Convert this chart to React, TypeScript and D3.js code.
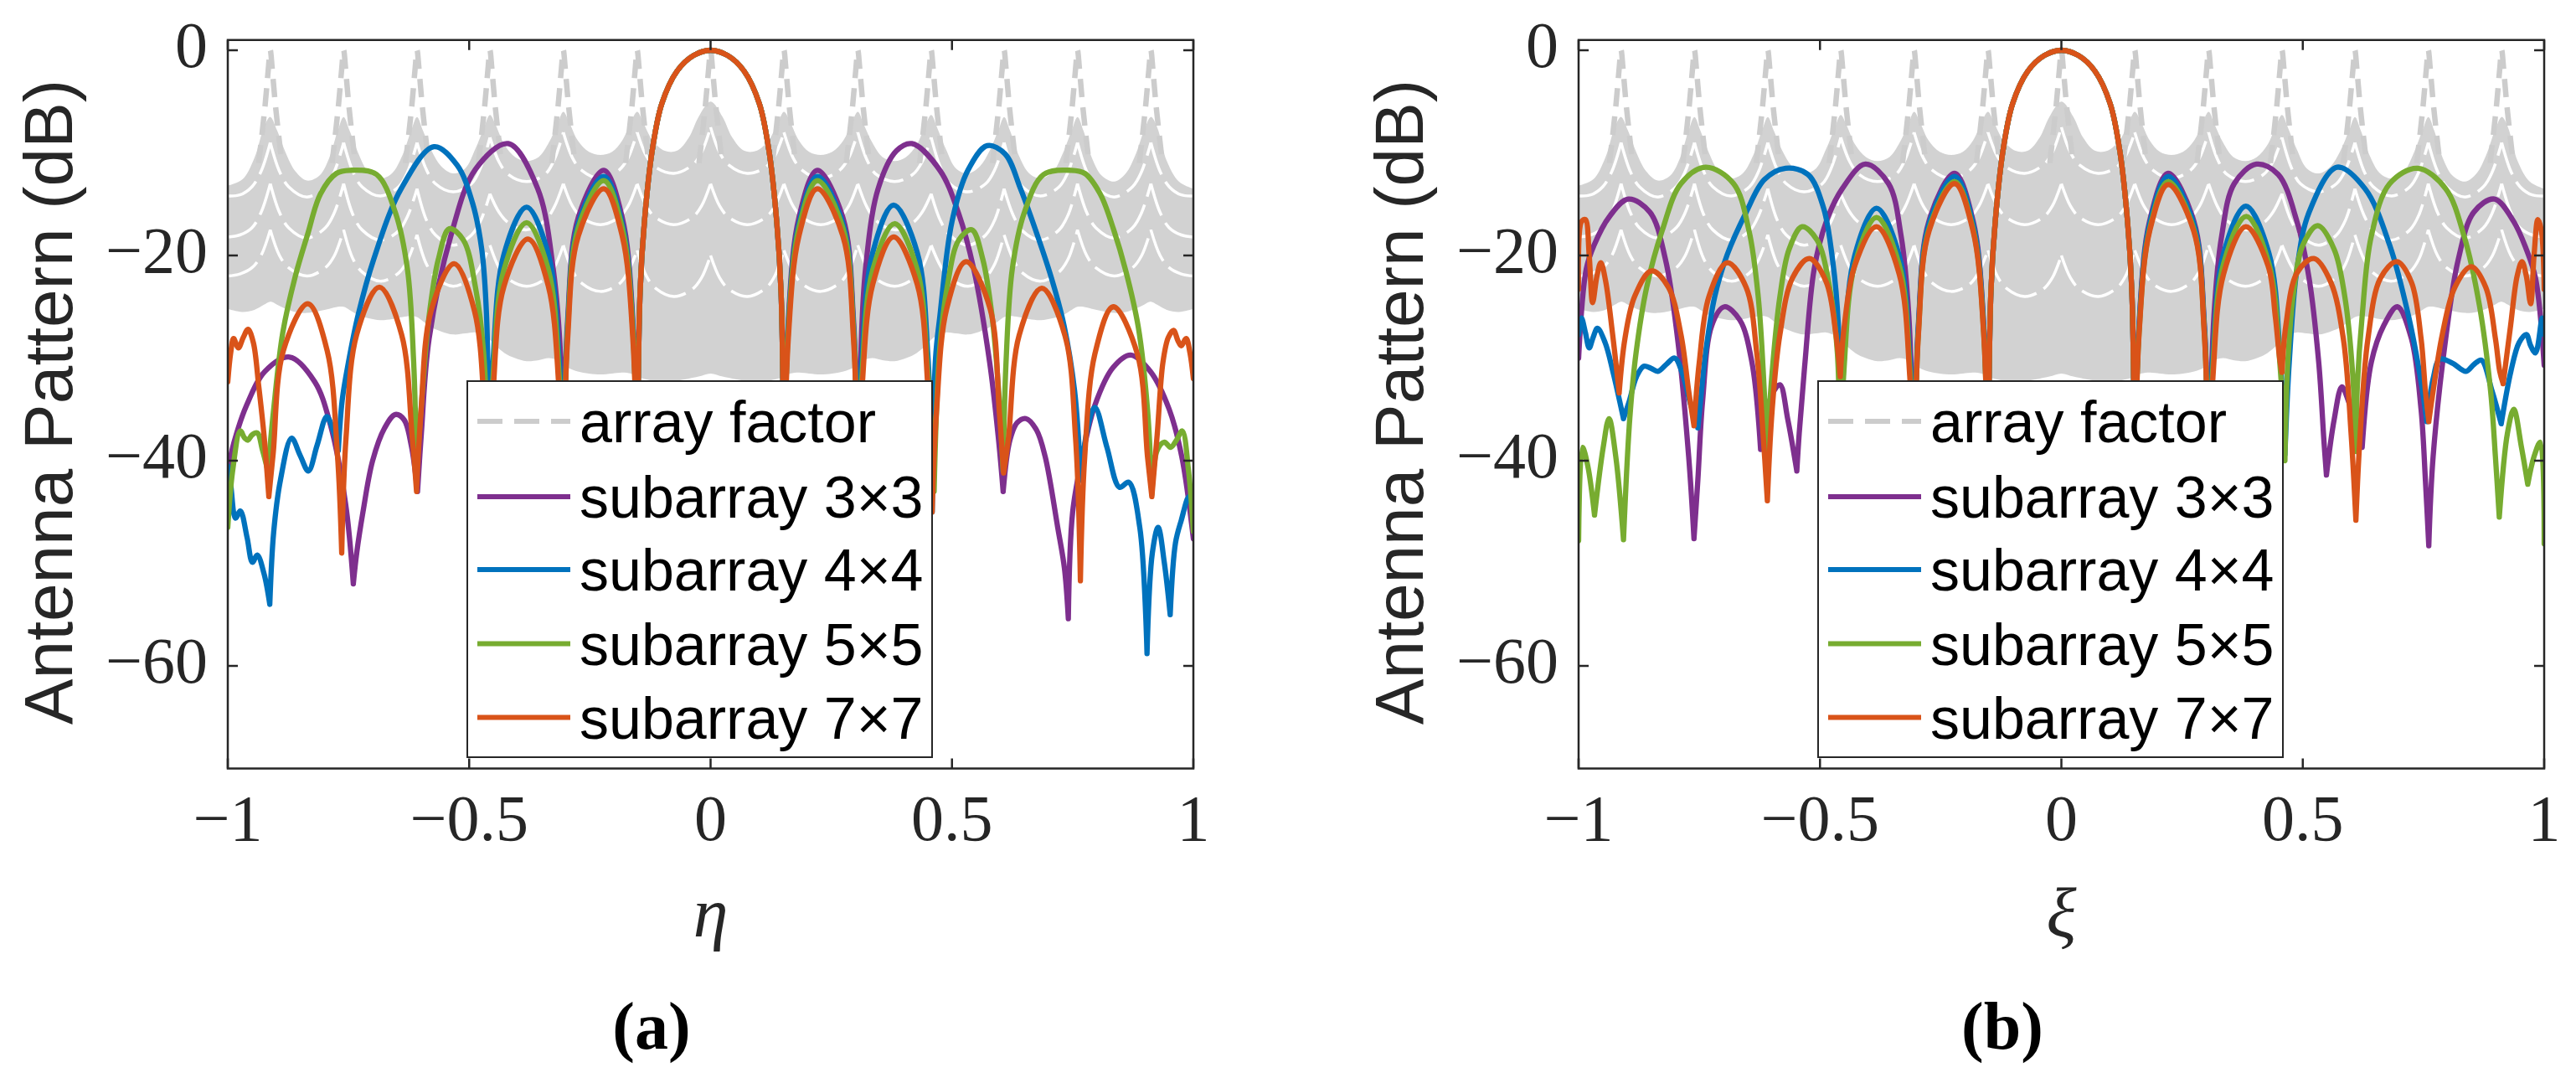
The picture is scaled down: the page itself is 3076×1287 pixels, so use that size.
import * as d3 from "d3";

// [x, dB, cusp?]  cusp=1 marks a null where the curve has a sharp corner
type Pt = [number, number, number?];

const W = 3076;
const H = 1287;
const plotWidth = 1153;
const plotTop = 47.75;
const plotBottom = 917.5;

const xTicks = [-1, -0.5, 0, 0.5, 1];
const xTickLabels = ["−1", "−0.5", "0", "0.5", "1"];
const yTicks = [0, -20, -40, -60];
const yTickLabels = ["0", "−20", "−40", "−60"];

const seriesNames = ["array factor", "subarray 3×3", "subarray 4×4", "subarray 5×5", "subarray 7×7"];
const seriesColors = ["#cccccc", "#7E2F8E", "#0072BD", "#77AC30", "#D95319"];

// array factor: grating-lobe spikes and the dense band between them
const afSpikes = [-0.912, -0.76, -0.608, -0.457, -0.305, -0.152, 0, 0.152, 0.305, 0.457, 0.608, 0.76, 0.912];
const spikeDx = [-0.024, -0.011, -0.004, 0, 0.004, 0.011, 0.024];
const spikeDb = [-11, -5.5, -1.8, 0, -1.8, -5.5, -11];

const afX = [
  -1, -0.97, -0.945, -0.925, -0.912, -0.898, -0.88, -0.86, -0.836, -0.81, -0.79, -0.772, -0.76, -0.748, -0.73, -0.71,
  -0.684, -0.66, -0.638, -0.62, -0.608, -0.596, -0.578, -0.558, -0.533, -0.508, -0.487, -0.469, -0.457, -0.445, -0.427,
  -0.405, -0.381, -0.356, -0.335, -0.317, -0.305, -0.293, -0.275, -0.252, -0.228, -0.204, -0.183, -0.165, -0.152, -0.14,
  -0.12, -0.095, -0.07, -0.045, -0.025, 0,
  0.025, 0.045, 0.07, 0.095, 0.12, 0.14, 0.152, 0.165, 0.183, 0.204, 0.228, 0.252, 0.275, 0.293, 0.305, 0.317, 0.335,
  0.356, 0.381, 0.405, 0.427, 0.445, 0.457, 0.469, 0.487, 0.508, 0.533, 0.558, 0.578, 0.596, 0.608, 0.62, 0.638, 0.66,
  0.684, 0.71, 0.73, 0.748, 0.76, 0.772, 0.79, 0.81, 0.836, 0.86, 0.88, 0.898, 0.912, 0.925, 0.945, 0.97, 1,
];
const afTop = [
  -13.2, -12.6, -10.5, -7.5, -6.5, -7.8, -10, -11.8, -12.7, -12.2, -10.5, -7.8, -6.5, -7.8, -10, -11.8,
  -12.5, -12, -10.2, -7.8, -6.5, -7.8, -9.8, -11.3, -12, -11.5, -9.6, -7.5, -6.3, -7.3, -9.2,
  -10.4, -10.8, -10.4, -9, -7.2, -6, -7, -8.8, -9.9, -10.2, -9.9, -8.8, -7, -6, -7,
  -8.8, -9.8, -9.8, -8.5, -6.5, -5,
  -6.5, -8.5, -9.8, -9.8, -8.8, -7, -6, -7, -8.8, -9.9, -10.2, -9.9, -8.8, -7, -6, -7.2, -9,
  -10.4, -10.8, -10.4, -9.2, -7.3, -6.3, -7.5, -9.6, -11.5, -12, -11.3, -9.8, -7.8, -6.5, -7.8, -10.2, -12,
  -12.5, -11.8, -10, -7.8, -6.5, -7.8, -10.5, -12.2, -12.8, -12, -10.2, -7.8, -6.5, -7.5, -10.8, -12.8, -13.5,
];
const afBottom = [
  -25.2, -25.5, -25.3, -24.8, -24.5, -24.8, -25.2, -25.5, -25.6, -25.4, -25.2, -25, -25, -25.3, -25.8, -26.1,
  -26.3, -26.2, -26, -25.9, -26, -26.4, -27, -27.4, -27.7, -27.6, -27.5, -27.8, -28.2, -28.8, -29.5,
  -30, -30.3, -30.2, -30, -30.2, -30.6, -31, -31.3, -31.5, -31.6, -31.5, -31.4, -31.5, -31.8, -32,
  -32.2, -32.3, -32.2, -32, -31.8, -31.5,
  -31.8, -32, -32.2, -32.3, -32.2, -32, -31.8, -31.5, -31.4, -31.5, -31.6, -31.5, -31.3, -31, -30.6, -30.2, -30,
  -30.2, -30.3, -30, -29.5, -28.8, -28.2, -27.8, -27.5, -27.6, -27.7, -27.4, -27, -26.4, -26, -25.9, -26, -26.2,
  -26.3, -26.1, -25.8, -25.3, -25, -25, -25.2, -25.4, -25.6, -25.5, -25.2, -24.8, -24.5, -24.8, -25.3, -25.5, -25.2,
];

// white gaps between the scalloped dashed arcs inside the band
const afGap1: Pt[] = [
  [-1, -14.2], [-0.975, -14.1], [-0.95, -13.3], [-0.931, -11.8], [-0.912, -9, 1],
  [-0.893, -11.8], [-0.874, -13.3], [-0.836, -14.3], [-0.798, -13.3], [-0.779, -11.8], [-0.76, -9, 1],
  [-0.741, -11.8], [-0.722, -13.3], [-0.684, -14.2], [-0.646, -13.3], [-0.627, -11.8], [-0.608, -9, 1],
  [-0.589, -11.6], [-0.57, -13], [-0.533, -13.8], [-0.495, -13], [-0.476, -11.4], [-0.457, -8.5, 1],
  [-0.438, -10.9], [-0.419, -12.1], [-0.381, -12.8], [-0.343, -12.1], [-0.324, -10.7], [-0.305, -8, 1],
  [-0.286, -10.5], [-0.267, -11.7], [-0.228, -12.5], [-0.19, -11.7], [-0.171, -10.5], [-0.152, -8, 1],
  [-0.133, -10.3], [-0.114, -11.4], [-0.076, -12], [-0.038, -11.2], [-0.019, -10], [0, -7.5, 1],
  [0.019, -10], [0.038, -11.2], [0.076, -12], [0.114, -11.4], [0.133, -10.3], [0.152, -8, 1],
  [0.171, -10.5], [0.19, -11.7], [0.228, -12.5], [0.267, -11.7], [0.286, -10.5], [0.305, -8, 1],
  [0.324, -10.7], [0.343, -12.1], [0.381, -12.8], [0.419, -12.1], [0.438, -10.9], [0.457, -8.5, 1],
  [0.476, -11.4], [0.495, -13], [0.533, -13.8], [0.57, -13], [0.589, -11.6], [0.608, -9, 1],
  [0.627, -11.8], [0.646, -13.3], [0.684, -14.2], [0.722, -13.3], [0.741, -11.8], [0.76, -9, 1],
  [0.779, -11.8], [0.798, -13.3], [0.836, -14.3], [0.874, -13.3], [0.893, -11.8], [0.912, -9, 1],
  [0.931, -11.8], [0.95, -13.3], [0.975, -14.1], [1, -14.2],
];
const afGap2: Pt[] = [
  [-1, -18.2], [-0.975, -18], [-0.95, -17.3], [-0.931, -15.8], [-0.912, -13, 1],
  [-0.893, -15.8], [-0.874, -17.3], [-0.836, -18.3], [-0.798, -17.3], [-0.779, -15.8], [-0.76, -13, 1],
  [-0.741, -16], [-0.722, -17.5], [-0.684, -18.5], [-0.646, -17.6], [-0.627, -16.1], [-0.608, -13.5, 1],
  [-0.589, -16.5], [-0.57, -18], [-0.533, -19], [-0.495, -18], [-0.476, -16.6], [-0.457, -14, 1],
  [-0.438, -15.8], [-0.419, -16.8], [-0.381, -17.5], [-0.343, -16.6], [-0.324, -15.3], [-0.305, -13, 1],
  [-0.286, -15.2], [-0.267, -16.3], [-0.228, -17], [-0.19, -16.3], [-0.171, -15.2], [-0.152, -13, 1],
  [-0.133, -15.2], [-0.114, -16.3], [-0.076, -17], [-0.038, -16.3], [-0.019, -15.2], [0, -13, 1],
  [0.019, -15.2], [0.038, -16.3], [0.076, -17], [0.114, -16.3], [0.133, -15.2], [0.152, -13, 1],
  [0.171, -15.2], [0.19, -16.3], [0.228, -17], [0.267, -16.3], [0.286, -15.2], [0.305, -13, 1],
  [0.324, -15.3], [0.343, -16.6], [0.381, -17.5], [0.419, -16.8], [0.438, -15.8], [0.457, -14, 1],
  [0.476, -16.6], [0.495, -18], [0.533, -19], [0.57, -18], [0.589, -16.5], [0.608, -13.5, 1],
  [0.627, -16.1], [0.646, -17.6], [0.684, -18.5], [0.722, -17.5], [0.741, -16], [0.76, -13, 1],
  [0.779, -15.8], [0.798, -17.3], [0.836, -18.3], [0.874, -17.3], [0.893, -15.8], [0.912, -13, 1],
  [0.931, -15.8], [0.95, -17.3], [0.975, -18], [1, -18.2],
];
const afGap3: Pt[] = [
  [-1, -22], [-0.975, -21.8], [-0.95, -21.2], [-0.931, -20], [-0.912, -17.5, 1],
  [-0.893, -20], [-0.874, -21.2], [-0.836, -22], [-0.798, -21.2], [-0.779, -20], [-0.76, -17.5, 1],
  [-0.741, -20.3], [-0.722, -21.6], [-0.684, -22.5], [-0.646, -21.7], [-0.627, -20.4], [-0.608, -18, 1],
  [-0.589, -20.8], [-0.57, -22.1], [-0.533, -23], [-0.495, -22.2], [-0.476, -21], [-0.457, -19, 1],
  [-0.438, -21.2], [-0.419, -22.3], [-0.381, -23], [-0.343, -22.3], [-0.324, -21.2], [-0.305, -19, 1],
  [-0.286, -21.5], [-0.267, -22.7], [-0.228, -23.5], [-0.19, -22.8], [-0.171, -21.6], [-0.152, -19.5, 1],
  [-0.133, -22], [-0.114, -23.2], [-0.076, -24], [-0.038, -23.3], [-0.019, -22.2], [0, -20, 1],
  [0.019, -22.2], [0.038, -23.3], [0.076, -24], [0.114, -23.2], [0.133, -22], [0.152, -19.5, 1],
  [0.171, -21.6], [0.19, -22.8], [0.228, -23.5], [0.267, -22.7], [0.286, -21.5], [0.305, -19, 1],
  [0.324, -21.2], [0.343, -22.3], [0.381, -23], [0.419, -22.3], [0.438, -21.2], [0.457, -19, 1],
  [0.476, -21], [0.495, -22.2], [0.533, -23], [0.57, -22.1], [0.589, -20.8], [0.608, -18, 1],
  [0.627, -20.4], [0.646, -21.7], [0.684, -22.5], [0.722, -21.6], [0.741, -20.3], [0.76, -17.5, 1],
  [0.779, -20], [0.798, -21.2], [0.836, -22], [0.874, -21.2], [0.893, -20], [0.912, -17.5, 1],
  [0.931, -20], [0.95, -21.2], [0.975, -21.8], [1, -22],
];

// main lobe, identical for every subarray size
const mainLobe: Pt[] = [
  [-0.152, -45, 1], [-0.146, -23.6], [-0.137, -16.7], [-0.121, -9.8], [-0.101, -5.2], [-0.069, -2.0], [-0.035, -0.5],
  [0, 0], [0.035, -0.5], [0.069, -2.0], [0.101, -5.2], [0.121, -9.8], [0.137, -16.7], [0.146, -23.6], [0.152, -45, 1],
];

// ---- panel (a), eta cut ----
const purpleA: Pt[] = [
  [-1, -41], [-0.987, -38.2], [-0.961, -34.6], [-0.923, -31.3], [-0.872, -29.9], [-0.82, -32.3], [-0.788, -36.4], [-0.756, -44.2], [-0.74, -52, 1],
  [-0.733, -49], [-0.72, -45], [-0.7, -40], [-0.675, -36.8], [-0.653, -35.5], [-0.635, -36], [-0.62, -38.5], [-0.607, -43, 1],
  [-0.599, -37.3], [-0.583, -28.1], [-0.538, -18.1], [-0.487, -11.6], [-0.419, -9.1], [-0.358, -13.5], [-0.326, -21.3], [-0.31, -30.4], [-0.305, -45, 1],
  [-0.296, -26.3], [-0.274, -16.3], [-0.221, -11.7], [-0.183, -16.3], [-0.161, -26.3],
  ...mainLobe,
  [0.161, -26.3], [0.183, -16.3], [0.221, -11.7], [0.274, -16.3], [0.296, -26.3], [0.305, -45, 1],
  [0.311, -30], [0.321, -21.3], [0.347, -13.5], [0.385, -9.8], [0.417, -9.1], [0.475, -11.7], [0.513, -15.8], [0.545, -21.3], [0.578, -30.4], [0.597, -38.2], [0.606, -43, 1],
  [0.62, -38], [0.635, -36.3], [0.653, -35.9], [0.675, -37], [0.693, -39.6], [0.719, -46.5], [0.733, -50.5], [0.741, -55.4, 1],
  [0.75, -45], [0.77, -39.6], [0.796, -34.6], [0.834, -30.9], [0.87, -29.7], [0.911, -31.3], [0.95, -35], [0.976, -39.6], [1, -47.6],
];
const blueA: Pt[] = [
  [-1, -40.5], [-0.994, -42.3], [-0.984, -45.6], [-0.974, -44.9], [-0.96, -47.5], [-0.949, -49.9], [-0.939, -49.2], [-0.925, -51], [-0.913, -54, 1],
  [-0.905, -47], [-0.891, -41.9], [-0.868, -37.8], [-0.85, -39.5], [-0.833, -41], [-0.815, -38.5], [-0.795, -35.7], [-0.782, -37], [-0.771, -39, 1],
  [-0.763, -34.1], [-0.75, -30.4], [-0.73, -25.8], [-0.698, -20.4], [-0.641, -13.5], [-0.573, -9.4], [-0.525, -11.2], [-0.493, -14.9], [-0.474, -19.4], [-0.464, -25.9], [-0.459, -45, 1],
  [-0.45, -29.9], [-0.428, -19.9], [-0.381, -15.3], [-0.336, -19.9], [-0.314, -29.9], [-0.305, -45, 1],
  [-0.296, -26.9], [-0.274, -16.9], [-0.221, -12.3], [-0.183, -16.9], [-0.161, -26.9],
  ...mainLobe,
  [0.161, -26.9], [0.183, -16.9], [0.221, -12.3], [0.274, -16.9], [0.296, -26.9], [0.305, -45, 1],
  [0.314, -29.7], [0.336, -19.7], [0.379, -15.1], [0.428, -19.7], [0.45, -29.7], [0.459, -45, 1],
  [0.466, -30], [0.475, -25.9], [0.5, -16.7], [0.533, -11.7], [0.573, -9.3], [0.61, -10.1], [0.642, -13.5], [0.667, -16.7], [0.706, -22.2], [0.732, -26.8], [0.754, -33.2], [0.767, -41.9, 1],
  [0.78, -37], [0.796, -34.8], [0.821, -38.7], [0.847, -42.6], [0.866, -42.1], [0.889, -46.5], [0.904, -58.8, 1],
  [0.915, -49], [0.927, -46.5], [0.94, -50], [0.952, -55, 1], [0.963, -48], [0.975, -45.8], [0.991, -43.5], [1, -44.6],
];
const greenA: Pt[] = [
  [-1, -46.5], [-0.99, -41], [-0.974, -37.1], [-0.965, -37.8], [-0.958, -38], [-0.95, -37.5], [-0.939, -37.3], [-0.928, -39], [-0.917, -41, 1],
  [-0.905, -35], [-0.886, -27.5], [-0.86, -22], [-0.835, -18], [-0.808, -14], [-0.775, -12], [-0.747, -11.7], [-0.692, -12.1], [-0.653, -15.8], [-0.628, -21.3], [-0.615, -30.4], [-0.609, -41, 1],
  [-0.596, -32.7], [-0.583, -25.9], [-0.564, -20.4], [-0.541, -17.4], [-0.512, -18.5], [-0.487, -23.1], [-0.47, -29.5], [-0.459, -45, 1],
  [-0.45, -31.4], [-0.428, -21.4], [-0.381, -16.8], [-0.336, -21.4], [-0.314, -31.4], [-0.305, -45, 1],
  [-0.296, -27.3], [-0.274, -17.3], [-0.221, -12.7], [-0.183, -17.3], [-0.161, -27.3],
  ...mainLobe,
  [0.161, -27.3], [0.183, -17.3], [0.221, -12.7], [0.274, -17.3], [0.296, -27.3], [0.305, -45, 1],
  [0.314, -31.4], [0.336, -21.4], [0.381, -16.9], [0.428, -21.4], [0.45, -31.4], [0.463, -43, 1],
  [0.474, -29.5], [0.49, -23.1], [0.514, -18.5], [0.541, -17.5], [0.564, -20.4], [0.583, -25.9], [0.596, -32.7], [0.606, -41, 1],
  [0.612, -30.4], [0.625, -21.3], [0.65, -15.8], [0.69, -12.1], [0.747, -11.7], [0.775, -12], [0.807, -14], [0.835, -17.5], [0.86, -21.5], [0.886, -27], [0.905, -35], [0.914, -43.3, 1],
  [0.925, -39], [0.94, -38.2], [0.953, -38.7], [0.965, -38], [0.977, -37.1], [0.99, -41], [1, -46.9],
];
const orangeA: Pt[] = [
  [-1, -32.3], [-0.994, -29.5], [-0.988, -28.1], [-0.978, -29], [-0.968, -28], [-0.958, -27.2], [-0.947, -28.5], [-0.936, -32.7], [-0.925, -37.5], [-0.915, -43.5, 1],
  [-0.906, -39.3], [-0.885, -29.3], [-0.834, -24.7], [-0.794, -29.3], [-0.773, -39.3], [-0.764, -49, 1],
  [-0.755, -37.7], [-0.733, -27.7], [-0.686, -23.1], [-0.64, -27.7], [-0.618, -37.7], [-0.609, -43, 1],
  [-0.6, -35.4], [-0.579, -25.4], [-0.531, -20.8], [-0.489, -25.4], [-0.468, -35.4], [-0.459, -45, 1],
  [-0.45, -33], [-0.428, -23], [-0.378, -18.4], [-0.336, -23], [-0.314, -33], [-0.305, -45, 1],
  [-0.296, -28.1], [-0.274, -18.1], [-0.221, -13.5], [-0.183, -18.1], [-0.161, -28.1],
  ...mainLobe,
  [0.161, -28.1], [0.183, -18.1], [0.221, -13.5], [0.274, -18.1], [0.296, -28.1], [0.305, -45, 1],
  [0.314, -32.8], [0.336, -22.8], [0.379, -18.2], [0.428, -22.8], [0.45, -32.8], [0.459, -45, 1],
  [0.468, -35.2], [0.489, -25.2], [0.529, -20.6], [0.579, -25.2], [0.598, -35.2], [0.607, -41.2, 1],
  [0.617, -37.8], [0.639, -27.8], [0.686, -23.2], [0.734, -27.8], [0.756, -37.8], [0.766, -51.7, 1],
  [0.775, -39.6], [0.796, -29.6], [0.834, -25], [0.884, -29.6], [0.905, -39.6], [0.914, -43.5, 1],
  [0.925, -37.5], [0.937, -30.4], [0.948, -28], [0.959, -27.3], [0.968, -28.3], [0.975, -28.8], [0.985, -28.1], [0.993, -29.5], [1, -32],
];

// ---- panel (b), xi cut ----
const purpleB: Pt[] = [
  [-1, -30], [-0.984, -21.3], [-0.968, -19], [-0.936, -16.2], [-0.897, -14.5], [-0.852, -15.8], [-0.82, -20.4], [-0.795, -28.1], [-0.772, -39.6], [-0.761, -47.6, 1],
  [-0.753, -41.9], [-0.743, -34.1], [-0.724, -26.8], [-0.698, -25], [-0.666, -26.3], [-0.641, -30.4], [-0.623, -38.9, 1],
  [-0.611, -35.5], [-0.599, -33.5], [-0.583, -32.6], [-0.567, -35.9], [-0.548, -41, 1],
  [-0.543, -37.3], [-0.531, -30.4], [-0.512, -21.3], [-0.487, -16.7], [-0.454, -13.5], [-0.406, -11.1], [-0.358, -13], [-0.332, -18.1], [-0.316, -25.9], [-0.305, -45, 1],
  [-0.296, -26.6], [-0.274, -16.6], [-0.221, -12], [-0.183, -16.6], [-0.161, -26.6],
  ...mainLobe,
  [0.161, -26.6], [0.183, -16.6], [0.221, -12], [0.274, -16.6], [0.296, -26.6], [0.305, -45, 1],
  [0.316, -25.9], [0.332, -18.1], [0.358, -13], [0.404, -11.1], [0.449, -12.1], [0.488, -16.7], [0.513, -22.2], [0.533, -30.4], [0.544, -38.2], [0.549, -41.4, 1],
  [0.565, -36], [0.581, -32.8], [0.597, -34.5], [0.611, -36], [0.623, -38.7, 1],
  [0.642, -30.4], [0.668, -26.8], [0.696, -25], [0.725, -28.1], [0.745, -35], [0.754, -41.9], [0.761, -48.3, 1],
  [0.77, -39.6], [0.796, -28.1], [0.822, -20.4], [0.854, -15.8], [0.897, -14.5], [0.937, -16.7], [0.963, -19.4], [0.982, -22.2], [1, -30.7],
];
const blueB: Pt[] = [
  [-1, -27.7], [-0.994, -26.1], [-0.986, -27.5], [-0.978, -29], [-0.97, -28], [-0.961, -27.1], [-0.945, -28.5], [-0.929, -31.3], [-0.907, -35.9, 1],
  [-0.895, -34.2], [-0.88, -31.8], [-0.865, -30.8], [-0.85, -31], [-0.836, -31.3], [-0.818, -30.6], [-0.801, -30], [-0.785, -31.5], [-0.768, -34.5], [-0.753, -36.8, 1],
  [-0.745, -33], [-0.737, -29.5], [-0.718, -24], [-0.692, -19.9], [-0.653, -15.8], [-0.615, -12.6], [-0.571, -11.5], [-0.525, -12.1], [-0.493, -15.3], [-0.474, -20.4], [-0.462, -26.8], [-0.459, -45, 1],
  [-0.45, -30], [-0.428, -20], [-0.383, -15.4], [-0.336, -20], [-0.314, -30], [-0.305, -45, 1],
  [-0.296, -26.9], [-0.274, -16.9], [-0.221, -12.3], [-0.183, -16.9], [-0.161, -26.9],
  ...mainLobe,
  [0.161, -26.9], [0.183, -16.9], [0.221, -12.3], [0.274, -16.9], [0.296, -26.9], [0.305, -45, 1],
  [0.314, -29.8], [0.336, -19.8], [0.382, -15.2], [0.43, -19.8], [0.453, -29.8], [0.463, -39.4, 1],
  [0.472, -30.4], [0.488, -21.3], [0.513, -15.8], [0.571, -11.4], [0.629, -13.5], [0.68, -19], [0.719, -25.9], [0.745, -32.3], [0.757, -36.2, 1],
  [0.77, -32], [0.784, -30.1], [0.81, -30.5], [0.838, -31.3], [0.855, -30.6], [0.87, -30.2], [0.892, -33.2], [0.911, -36.4, 1],
  [0.931, -31.3], [0.948, -28.5], [0.963, -27.7], [0.972, -28.8], [0.982, -29.5], [0.996, -26.1], [1, -27.7],
];
const greenB: Pt[] = [
  [-1, -47.8], [-0.992, -38.7], [-0.981, -40.5], [-0.967, -45.3, 1], [-0.949, -38.7], [-0.937, -35.9], [-0.923, -39.6], [-0.907, -47.7, 1],
  [-0.894, -35.9], [-0.881, -29.5], [-0.859, -23.1], [-0.827, -17.6], [-0.788, -13], [-0.737, -11.4], [-0.679, -13], [-0.647, -17.6], [-0.628, -24], [-0.616, -32.7], [-0.61, -39.1, 1],
  [-0.599, -31.3], [-0.583, -24], [-0.564, -19.4], [-0.537, -17.2], [-0.506, -18.5], [-0.48, -23.1], [-0.464, -29.5], [-0.459, -45, 1],
  [-0.45, -30.9], [-0.428, -20.9], [-0.383, -16.3], [-0.336, -20.9], [-0.314, -30.9], [-0.305, -45, 1],
  [-0.296, -27.4], [-0.274, -17.4], [-0.221, -12.8], [-0.183, -17.4], [-0.161, -27.4],
  ...mainLobe,
  [0.161, -27.4], [0.183, -17.4], [0.221, -12.8], [0.274, -17.4], [0.296, -27.4], [0.305, -45, 1],
  [0.314, -30.8], [0.336, -20.8], [0.383, -16.2], [0.43, -20.8], [0.453, -30.8], [0.463, -40, 1],
  [0.469, -30.4], [0.481, -23.6], [0.5, -19], [0.531, -17.1], [0.565, -19.4], [0.587, -24], [0.603, -31.3], [0.61, -39.1, 1],
  [0.613, -32.7], [0.623, -25.9], [0.642, -18.1], [0.68, -13], [0.738, -11.5], [0.796, -13.5], [0.834, -18.1], [0.866, -24.9], [0.889, -33.2], [0.899, -39.6], [0.907, -45.5, 1],
  [0.924, -37.3], [0.937, -35], [0.953, -38.7], [0.966, -42.3, 1], [0.979, -39.6], [0.992, -38.2], [1, -48.1],
];
const orangeB: Pt[] = [
  [-1, -23.3], [-0.994, -16.7], [-0.986, -16.5], [-0.978, -20], [-0.971, -24.6], [-0.962, -22], [-0.954, -20.7], [-0.944, -22.5], [-0.93, -27.5], [-0.916, -33.4, 1],
  [-0.904, -28.1], [-0.884, -24], [-0.849, -21.5], [-0.814, -23.1], [-0.788, -27.7], [-0.772, -33.2], [-0.761, -36.6, 1],
  [-0.75, -30.4], [-0.73, -24], [-0.692, -20.7], [-0.653, -23.1], [-0.631, -29.5], [-0.618, -37.3], [-0.609, -43.9, 1],
  [-0.599, -35], [-0.583, -27.7], [-0.557, -22.2], [-0.522, -20.3], [-0.487, -22.6], [-0.467, -27.7], [-0.458, -31.8, 1],
  [-0.45, -27], [-0.428, -21], [-0.383, -17.2], [-0.336, -21.8], [-0.314, -31.8], [-0.305, -45, 1],
  [-0.296, -27.6], [-0.274, -17.6], [-0.221, -13], [-0.183, -17.6], [-0.161, -27.6],
  ...mainLobe,
  [0.161, -27.6], [0.183, -17.6], [0.221, -13.1], [0.274, -17.6], [0.296, -27.6], [0.305, -45, 1],
  [0.314, -31.8], [0.336, -21.8], [0.382, -17.2], [0.428, -21], [0.443, -25.9], [0.452, -30], [0.457, -31.4, 1],
  [0.465, -26.8], [0.488, -21.7], [0.523, -20.3], [0.558, -22.6], [0.584, -28.1], [0.6, -37.3], [0.61, -45.8, 1],
  [0.619, -37.3], [0.635, -28.1], [0.661, -22.2], [0.695, -20.6], [0.725, -22.6], [0.745, -28.1], [0.754, -33.2], [0.761, -36.2, 1],
  [0.77, -33.2], [0.789, -27.7], [0.815, -23.1], [0.849, -21.1], [0.879, -23.1], [0.899, -28.1], [0.908, -31.3], [0.915, -32.5, 1],
  [0.93, -27], [0.944, -22], [0.954, -20.6], [0.963, -22], [0.972, -24.7], [0.979, -20], [0.987, -16.5], [0.994, -17.5], [1, -23.3],
];

const curvesA = [purpleA, blueA, greenA, orangeA];
const curvesB = [purpleB, blueB, greenB, orangeB];

const serif = "'Liberation Serif', 'Times New Roman', serif";
const sans = "'Liberation Sans', Arial, Helvetica, sans-serif";
const axisColor = "#262626";

// split a series at its nulls so each lobe is its own smooth piece
function splitAtNulls(pts: Pt[]): Pt[][] {
  const out: Pt[][] = [];
  let cur: Pt[] = [];
  pts.forEach((p) => {
    cur.push(p);
    if (p[2]) {
      if (cur.length > 1) out.push(cur);
      cur = [p];
    }
  });
  if (cur.length > 1) out.push(cur);
  return out;
}

function Panel({ id, left, curves, xLabel, caption }: { id: string; left: number; curves: Pt[][]; xLabel: string; caption: string }) {
  const x = d3.scaleLinear().domain([-1, 1]).range([left, left + plotWidth]);
  const y = d3.scaleLinear().domain([-70, 1]).range([plotBottom, plotTop]);

  const line = d3
    .line<Pt>()
    .x((d) => x(d[0]))
    .y((d) => y(d[1]))
    .curve(d3.curveCatmullRom.alpha(0.5));
  const lobes = (pts: Pt[]) =>
    splitAtNulls(pts)
      .map((seg) => line(seg) ?? "")
      .join("");

  const band = d3
    .area<number>()
    .x((d) => x(d))
    .y0((_, i) => y(afBottom[i]))
    .y1((_, i) => y(afTop[i]))
    .curve(d3.curveCatmullRom.alpha(0.5));

  const spikeLine = d3
    .line<number>()
    .x((d) => x(d))
    .y((_, i) => y(spikeDb[i]))
    .curve(d3.curveCatmullRom.alpha(0.5));

  const legendX = left + 286;
  const legendY = 455;
  const legendRows = [503, 593, 680, 768.5, 856.5];

  return (
    <g>
      <defs>
        <clipPath id={`clip-${id}`}>
          <rect x={left} y={plotTop} width={plotWidth} height={plotBottom - plotTop} />
        </clipPath>
      </defs>

      <g clipPath={`url(#clip-${id})`}>
        <path d={band(afX) ?? ""} fill="#d2d2d2" />
        {[afGap1, afGap2, afGap3].map((g, i) => (
          <path key={`gap${i}`} d={lobes(g)} fill="none" stroke="#fff" strokeWidth={3.5} strokeDasharray="40 10" />
        ))}
        {afSpikes.map((s, i) => (
          <path
            key={i}
            d={spikeLine(spikeDx.map((dx) => s + dx)) ?? ""}
            fill="none"
            stroke={seriesColors[0]}
            strokeWidth={6.5}
            strokeDasharray="22 12"
          />
        ))}
        {curves.map((c, i) => (
          <path
            key={i}
            d={lobes(c)}
            fill="none"
            stroke={seriesColors[i + 1]}
            strokeWidth={6.3}
            strokeLinecap="round"
            strokeLinejoin="round"
          />
        ))}
      </g>

      {/* legend */}
      <rect x={legendX} y={legendY} width={555} height={449} fill="#fff" stroke={axisColor} strokeWidth={2} />
      {seriesNames.map((name, i) => (
        <g key={name}>
          <line
            x1={legendX + 12}
            x2={legendX + 123}
            y1={legendRows[i]}
            y2={legendRows[i]}
            stroke={seriesColors[i]}
            strokeWidth={6}
            strokeDasharray={i === 0 ? "30 14" : undefined}
          />
          <text x={legendX + 134} y={legendRows[i] + 25} fontFamily={sans} fontSize={70} fill="#000">
            {name}
          </text>
        </g>
      ))}

      {/* axes box and ticks */}
      <rect x={left} y={plotTop} width={plotWidth} height={plotBottom - plotTop} fill="none" stroke={axisColor} strokeWidth={2.5} />
      {xTicks.map((t) => (
        <g key={`x${t}`}>
          <line x1={x(t)} x2={x(t)} y1={plotBottom} y2={plotBottom - 12} stroke={axisColor} strokeWidth={2.5} />
          <line x1={x(t)} x2={x(t)} y1={plotTop} y2={plotTop + 12} stroke={axisColor} strokeWidth={2.5} />
        </g>
      ))}
      {yTicks.map((t) => (
        <g key={`y${t}`}>
          <line x1={left} x2={left + 12} y1={y(t)} y2={y(t)} stroke={axisColor} strokeWidth={2.5} />
          <line x1={left + plotWidth} x2={left + plotWidth - 12} y1={y(t)} y2={y(t)} stroke={axisColor} strokeWidth={2.5} />
        </g>
      ))}

      {/* tick labels */}
      {xTicks.map((t, i) => (
        <text key={`xl${t}`} x={x(t)} y={1003} textAnchor="middle" fontFamily={serif} fontSize={78} fill={axisColor}>
          {xTickLabels[i]}
        </text>
      ))}
      {yTicks.map((t, i) => (
        <text key={`yl${t}`} x={left - 24} y={y(t) + 20} textAnchor="end" fontFamily={serif} fontSize={78} fill={axisColor}>
          {yTickLabels[i]}
        </text>
      ))}

      {/* axis titles */}
      <text
        transform={`translate(${left - 186},480) rotate(-90)`}
        textAnchor="middle"
        fontFamily={sans}
        fontSize={82}
        fill={axisColor}
      >
        Antenna Pattern (dB)
      </text>
      <text x={left + plotWidth / 2} y={1118} textAnchor="middle" fontFamily={serif} fontStyle="italic" fontSize={84} fill={axisColor}>
        {xLabel}
      </text>
      <text x={left + 506} y={1252} textAnchor="middle" fontFamily={serif} fontWeight="bold" fontSize={80} fill="#000">
        {caption}
      </text>
    </g>
  );
}

export default function App() {
  return (
    <svg width={W} height={H} style={{ position: "absolute", left: 0, top: 0, background: "#fff" }}>
      <rect width={W} height={H} fill="#fff" />
      <Panel id="a" left={272} curves={curvesA} xLabel="η" caption="(a)" />
      <Panel id="b" left={1885} curves={curvesB} xLabel="ξ" caption="(b)" />
    </svg>
  );
}
